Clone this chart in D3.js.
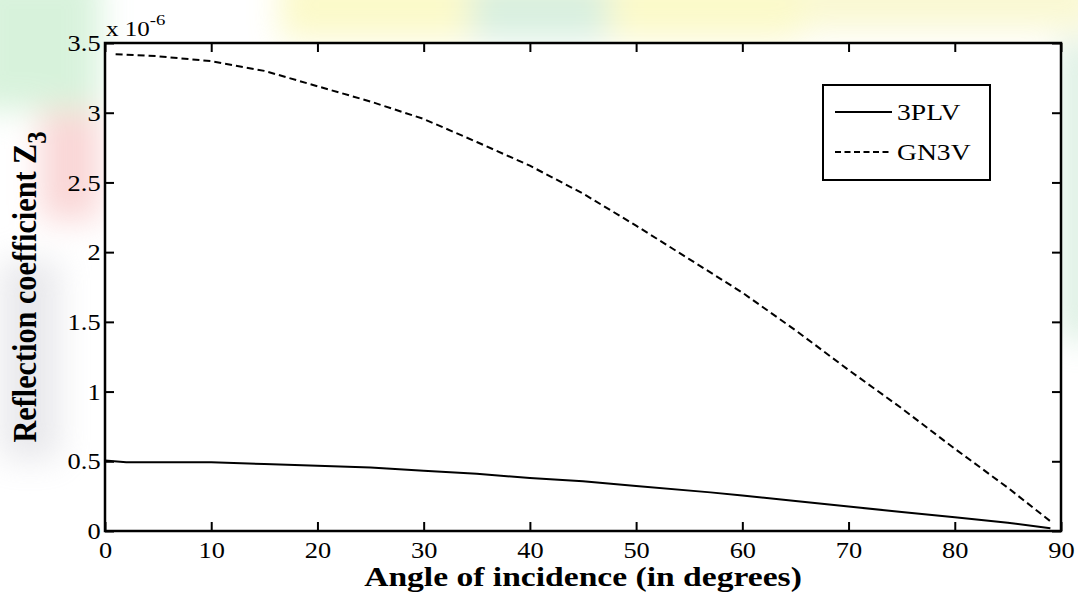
<!DOCTYPE html>
<html>
<head>
<meta charset="utf-8">
<script src="https://cdn.jsdelivr.net/npm/d3@7"></script>
<style>
  body { margin: 0; background: #fff; }
  svg { display: block; font-family: "Liberation Serif", "Times New Roman", serif; }
</style>
</head>
<body>
<div id="chart"></div>
<script>
// angle of incidence (degrees) and reflection coefficient (x 1e-6)
const anglesPLV = [0, 2, 10, 15, 20, 25, 30, 35, 40, 45, 50, 57, 60, 65, 70, 75, 80, 85, 89];
const valuesPLV = [0.505, 0.493, 0.493, 0.48, 0.468, 0.455, 0.433, 0.41, 0.38, 0.357, 0.323, 0.277, 0.255, 0.215, 0.175, 0.137, 0.098, 0.06, 0.02];

const anglesGN = [1, 5, 10, 15, 20, 25, 30, 35, 40, 45, 50, 55, 60, 65, 70, 75, 80, 85, 89];
const valuesGN = [3.42, 3.405, 3.37, 3.30, 3.19, 3.08, 2.955, 2.79, 2.62, 2.42, 2.19, 1.95, 1.71, 1.44, 1.155, 0.88, 0.59, 0.31, 0.07];

const xTicks = [0, 10, 20, 30, 40, 50, 60, 70, 80, 90];
const yTicks = [0, 0.5, 1, 1.5, 2, 2.5, 3, 3.5];
const yTickLabels = ['0', '0.5', '1', '1.5', '2', '2.5', '3', '3.5'];
const seriesNames = ['3PLV', 'GN3V'];

const width = 1078, height = 595;
const margin = { left: 105, right: 17, top: 43, bottom: 64 };
const w = width - margin.left - margin.right;
const h = height - margin.top - margin.bottom;

// the original figure is stretched sideways, text included
const sx = 1.1;

const svg = d3.select('#chart').append('svg')
  .attr('width', width)
  .attr('height', height);

// faint watermark behind the figure
const defs = svg.append('defs');
defs.append('filter').attr('id', 'blur')
  .append('feGaussianBlur').attr('stdDeviation', 16);
const wm = svg.append('g').attr('filter', 'url(#blur)').attr('opacity', 0.4);
wm.append('rect').attr('x', 280).attr('y', -30).attr('width', 520).attr('height', 70).attr('fill', '#f6f27a');
wm.append('rect').attr('x', 800).attr('y', -30).attr('width', 300).attr('height', 60).attr('fill', '#f2ee90');
wm.append('rect').attr('x', -30).attr('y', -30).attr('width', 130).attr('height', 140).attr('fill', '#9ee0a8');
wm.append('rect').attr('x', 40).attr('y', 110).attr('width', 60).attr('height', 110).attr('fill', '#f29a9a');
wm.append('rect').attr('x', 0).attr('y', 260).attr('width', 60).attr('height', 200).attr('fill', '#c8c8d0');
wm.append('rect').attr('x', 1060).attr('y', 40).attr('width', 40).attr('height', 300).attr('fill', '#a8d8b8');
wm.append('rect').attr('x', 470).attr('y', -20).attr('width', 140).attr('height', 60).attr('fill', '#9fd8b0');

const g = svg.append('g')
  .attr('transform', 'translate(' + margin.left + ',' + margin.top + ')');

g.append('rect').attr('width', w).attr('height', h).attr('fill', '#fff');

const x = d3.scaleLinear().domain([0, 90]).range([0, w]);
const y = d3.scaleLinear().domain([0, 3.5]).range([h, 0]);

const tickLen = 9;
const axisFont = '24px';

// bottom axis with labels
g.append('g')
  .attr('transform', 'translate(0,' + h + ')')
  .call(d3.axisBottom(x).tickValues(xTicks).tickSizeInner(-tickLen).tickSizeOuter(0).tickPadding(10))
  .call(a => a.select('.domain').remove())
  .call(a => a.selectAll('.tick line').attr('stroke', '#000').attr('stroke-width', 2))
  .call(a => a.selectAll('.tick text').attr('font-size', axisFont).attr('fill', '#000')
    .attr('font-family', '"Liberation Serif", serif')
    .attr('transform', 'scale(' + sx + ',1)'));

// top axis, ticks only
g.append('g')
  .call(d3.axisTop(x).tickValues(xTicks).tickSizeInner(-tickLen).tickSizeOuter(0).tickFormat(''))
  .call(a => a.select('.domain').remove())
  .call(a => a.selectAll('.tick line').attr('stroke', '#000').attr('stroke-width', 2));

// left axis with labels
g.append('g')
  .call(d3.axisLeft(y).tickValues(yTicks).tickSizeInner(-tickLen).tickSizeOuter(0).tickPadding(4)
    .tickFormat((d, i) => yTickLabels[i]))
  .call(a => a.select('.domain').remove())
  .call(a => a.selectAll('.tick line').attr('stroke', '#000').attr('stroke-width', 2))
  .call(a => a.selectAll('.tick text').attr('font-size', axisFont).attr('fill', '#000')
    .attr('font-family', '"Liberation Serif", serif')
    .attr('transform', 'scale(' + sx + ',1)'));

// right axis, ticks only
g.append('g')
  .attr('transform', 'translate(' + w + ',0)')
  .call(d3.axisRight(y).tickValues(yTicks).tickSizeInner(-tickLen).tickSizeOuter(0).tickFormat(''))
  .call(a => a.select('.domain').remove())
  .call(a => a.selectAll('.tick line').attr('stroke', '#000').attr('stroke-width', 2));

// frame
g.append('rect')
  .attr('width', w).attr('height', h)
  .attr('fill', 'none').attr('stroke', '#000').attr('stroke-width', 2.5);

// exponent label
const expo = g.append('text')
  .attr('transform', 'translate(1,-7) scale(1.25,1)')
  .attr('font-size', '20px').attr('fill', '#000');
expo.append('tspan').text('x 10');
expo.append('tspan').attr('dy', -11).attr('font-size', '15px').text('-6');

// series
const line = d3.line()
  .x(d => x(d[0]))
  .y(d => y(d[1]));

const plvData = anglesPLV.map((a, i) => [a, valuesPLV[i]]);
const gnData = anglesGN.map((a, i) => [a, valuesGN[i]]);

g.append('path')
  .datum(plvData)
  .attr('fill', 'none')
  .attr('stroke', '#000')
  .attr('stroke-width', 2)
  .attr('d', line);

g.append('path')
  .datum(gnData)
  .attr('fill', 'none')
  .attr('stroke', '#000')
  .attr('stroke-width', 2)
  .attr('stroke-dasharray', '7,4')
  .attr('d', line);

// legend
const lg = svg.append('g').attr('transform', 'translate(823,85)');
lg.append('rect')
  .attr('width', 167).attr('height', 95)
  .attr('fill', '#fff').attr('stroke', '#000').attr('stroke-width', 2);
seriesNames.forEach((name, i) => {
  const yy = 27 + i * 40;
  lg.append('line')
    .attr('x1', 12).attr('x2', 69).attr('y1', yy).attr('y2', yy)
    .attr('stroke', '#000').attr('stroke-width', 1.8)
    .attr('stroke-dasharray', i === 0 ? null : '6,3.5');
  lg.append('text')
    .attr('transform', 'translate(74,' + (yy + 8) + ') scale(1.2,1)')
    .attr('font-size', '23px').attr('fill', '#000')
    .text(name);
});

// axis titles
svg.append('text')
  .attr('transform', 'translate(' + (margin.left + w / 2) + ',586) scale(1.2,1)')
  .attr('text-anchor', 'middle')
  .attr('font-size', '28px').attr('font-weight', 'bold').attr('fill', '#000')
  .text('Angle of incidence (in degrees)');

const yt = svg.append('text')
  .attr('transform', 'translate(36,' + (margin.top + h / 2) + ') rotate(-90) scale(1.12,1.25)')
  .attr('text-anchor', 'middle')
  .attr('font-size', '27px').attr('font-weight', 'bold').attr('fill', '#000');
yt.append('tspan').text('Reflection coefficient Z');
yt.append('tspan').attr('dy', 8).attr('font-size', '22px').text('3');
</script>
</body>
</html>
